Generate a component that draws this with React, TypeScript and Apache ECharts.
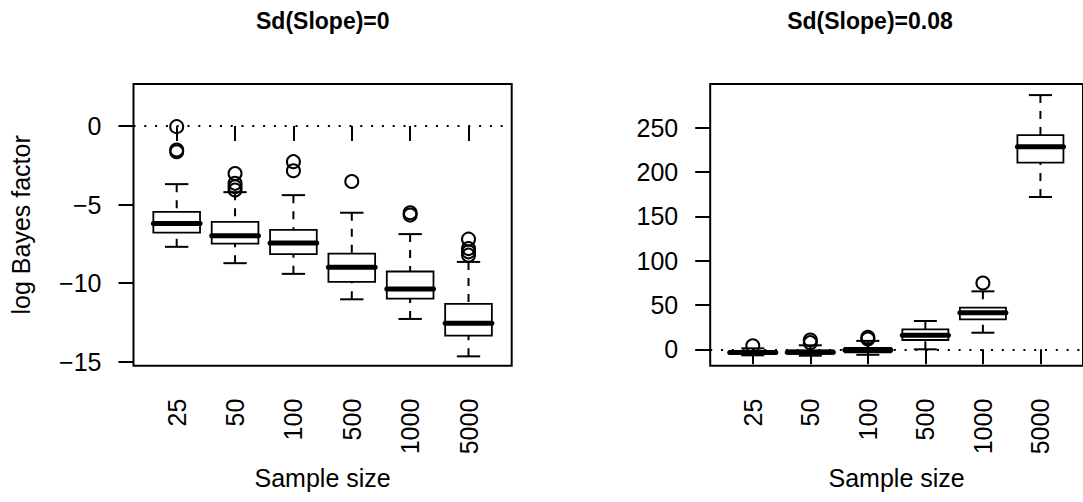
import React, { useEffect, useRef } from "react";
import * as echarts from "echarts";

const categories = ["25", "50", "100", "500", "1000", "5000"];

// [lower whisker, Q1, median, Q3, upper whisker]
const leftStats = [
  [-7.69, -6.78, -6.2, -5.46, -3.7],
  [-8.73, -7.48, -6.99, -6.1, -4.21],
  [-9.41, -8.16, -7.44, -6.61, -4.4],
  [-11.03, -9.92, -8.99, -8.12, -5.52],
  [-12.28, -10.98, -10.37, -9.26, -6.88],
  [-14.66, -13.34, -12.56, -11.32, -8.65],
];
const leftOutliers = [
  [-0.04, -1.53, -1.64],
  [-3.02, -3.65, -3.87, -4.08],
  [-2.27, -2.85],
  [-3.53],
  [-5.52, -5.67],
  [-7.2, -7.8, -8.01, -8.22],
];

const rightStats = [
  [-6.8, -5.2, -3.6, -2.0, 1.1],
  [-7.2, -5.0, -3.2, -1.2, 4.5],
  [-6.2, -3.5, -0.8, 1.5, 9.5],
  [0.0, 10.5, 15.8, 22.5, 31.9],
  [18.7, 33.8, 41.3, 47.0, 65.4],
  [171.8, 210.5, 228.5, 241.7, 286.8],
];
const rightOutliers = [[4.0], [7.5, 10.5], [11.5, 13.5], [], [74.8], []];

const leftTicks = [-15, -10, -5, 0];
const rightTicks = [0, 50, 100, 150, 200, 250];
const xTicks = [1, 2, 3, 4, 5, 6];

const FONT = '"Liberation Sans", Arial, Helvetica, sans-serif';

function renderBox(params: any, api: any) {
  const x = api.value(0);
  const low = api.coord([x, api.value(1)]);
  const q1 = api.coord([x, api.value(2)]);
  const med = api.coord([x, api.value(3)]);
  const q3 = api.coord([x, api.value(4)]);
  const high = api.coord([x, api.value(5)]);
  const bw = api.size([0.8, 0])[0];
  const cw = bw / 2;
  const cx = low[0];
  const thin = { stroke: "#000", lineWidth: 2 };
  return {
    type: "group",
    children: [
      {
        type: "line",
        shape: { x1: cx, y1: high[1], x2: cx, y2: q3[1] },
        style: { ...thin, lineDash: [8, 8] },
      },
      {
        type: "line",
        shape: { x1: cx, y1: low[1], x2: cx, y2: q1[1] },
        style: { ...thin, lineDash: [8, 8] },
      },
      {
        type: "line",
        shape: { x1: cx - cw / 2, y1: high[1], x2: cx + cw / 2, y2: high[1] },
        style: thin,
      },
      {
        type: "line",
        shape: { x1: cx - cw / 2, y1: low[1], x2: cx + cw / 2, y2: low[1] },
        style: thin,
      },
      {
        type: "rect",
        shape: { x: cx - bw / 2, y: q3[1], width: bw, height: q1[1] - q3[1] },
        style: { fill: "transparent", stroke: "#000", lineWidth: 1.8 },
      },
      {
        type: "line",
        shape: { x1: cx - bw / 2, y1: med[1], x2: cx + bw / 2, y2: med[1] },
        style: { stroke: "#000", lineWidth: 5, lineCap: "round" },
      },
    ],
  };
}

function boxData(stats: number[][]) {
  return stats.map((s, i) => [i + 1, ...s]);
}
function outlierData(out: number[][]) {
  const res: number[][] = [];
  out.forEach((arr, i) => arr.forEach((v) => res.push([i + 1, v])));
  return res;
}

const minus = (v: number) => String(v).replace("-", "\u2212");

function xAxisCfg(gridIndex: number) {
  return {
    type: "value",
    gridIndex,
    min: 0.26,
    max: 6.74,
    name: "Sample size",
    nameLocation: "middle",
    nameGap: 100,
    nameTextStyle: { fontSize: 25, fontFamily: FONT, color: "#000" },
    axisLine: { show: false },
    splitLine: { show: false },
    axisTick: {
      show: true,
      length: 15,
      customValues: xTicks,
      lineStyle: { color: "#000", width: 2 },
    },
    axisLabel: {
      customValues: xTicks,
      rotate: 90,
      margin: 33,
      fontSize: 25,
      fontFamily: FONT,
      color: "#000",
      formatter: (v: number) => categories[Math.round(v) - 1] ?? "",
    },
  };
}

function yAxisCfg(gridIndex: number, min: number, max: number, ticks: number[], name: string) {
  return {
    type: "value",
    gridIndex,
    min,
    max,
    name,
    nameLocation: "middle",
    nameRotate: 90,
    nameGap: 100,
    nameTextStyle: { fontSize: 25, fontFamily: FONT, color: "#000" },
    axisLine: { show: false },
    splitLine: { show: false },
    axisTick: {
      show: true,
      length: 15,
      customValues: ticks,
      lineStyle: { color: "#000", width: 2 },
    },
    axisLabel: {
      customValues: ticks,
      margin: 32,
      fontSize: 25,
      fontFamily: FONT,
      color: "#000",
      formatter: (v: number) => minus(v),
    },
  };
}

const zeroLine = {
  silent: true,
  symbol: "none",
  label: { show: false },
  lineStyle: { color: "#000", width: 2, type: [2, 8.8], opacity: 1 },
  data: [{ yAxis: 0 }],
};

const outlierStyle = {
  color: "transparent",
  borderColor: "#000",
  borderWidth: 2,
  opacity: 1,
};

export default function App() {
  const ref = useRef<HTMLDivElement>(null);
  useEffect(() => {
    if (!ref.current) return;
    const chart = echarts.init(ref.current, null, { renderer: "svg" });
    chart.setOption({
      animation: false,
      backgroundColor: "#fff",
      grid: [
        {
          left: 133.5,
          top: 84,
          width: 378.2,
          height: 281.7,
          show: true,
          borderColor: "#000",
          borderWidth: 2,
          backgroundColor: "transparent",
        },
        {
          left: 710.2,
          top: 84,
          width: 377.6,
          height: 281.7,
          show: true,
          borderColor: "#000",
          borderWidth: 2,
          backgroundColor: "transparent",
        },
      ],
      xAxis: [xAxisCfg(0), xAxisCfg(1)],
      yAxis: [
        yAxisCfg(0, -15.255, 2.673, leftTicks, "log Bayes factor"),
        { ...yAxisCfg(1, -18.5, 299.3, rightTicks, ""), name: "" },
      ],
      graphic: [
        {
          type: "text",
          x: 322.8,
          y: 21,
          style: {
            text: "Sd(Slope)=0",
            fontSize: 23,
            fontWeight: "bold",
            fontFamily: FONT,
            fill: "#000",
            align: "center",
            verticalAlign: "middle",
          },
        },
        {
          type: "text",
          x: 870,
          y: 21,
          style: {
            text: "Sd(Slope)=0.08",
            fontSize: 23,
            fontWeight: "bold",
            fontFamily: FONT,
            fill: "#000",
            align: "center",
            verticalAlign: "middle",
          },
        },
      ],
      series: [
        {
          type: "custom",
          xAxisIndex: 0,
          yAxisIndex: 0,
          renderItem: renderBox,
          encode: { x: 0, y: [1, 2, 3, 4, 5] },
          data: boxData(leftStats),
          markLine: zeroLine,
          z: 3,
        },
        {
          type: "scatter",
          xAxisIndex: 0,
          yAxisIndex: 0,
          symbol: "circle",
          symbolSize: 13,
          itemStyle: outlierStyle,
          data: outlierData(leftOutliers),
          z: 4,
        },
        {
          type: "custom",
          xAxisIndex: 1,
          yAxisIndex: 1,
          renderItem: renderBox,
          encode: { x: 0, y: [1, 2, 3, 4, 5] },
          data: boxData(rightStats),
          markLine: zeroLine,
          z: 3,
        },
        {
          type: "scatter",
          xAxisIndex: 1,
          yAxisIndex: 1,
          symbol: "circle",
          symbolSize: 13,
          itemStyle: outlierStyle,
          data: outlierData(rightOutliers),
          z: 4,
        },
      ],
    });
    return () => chart.dispose();
  }, []);
  return (
    <div
      ref={ref}
      style={{ position: "fixed", left: 0, top: 0, width: 1083, height: 502 }}
    />
  );
}
